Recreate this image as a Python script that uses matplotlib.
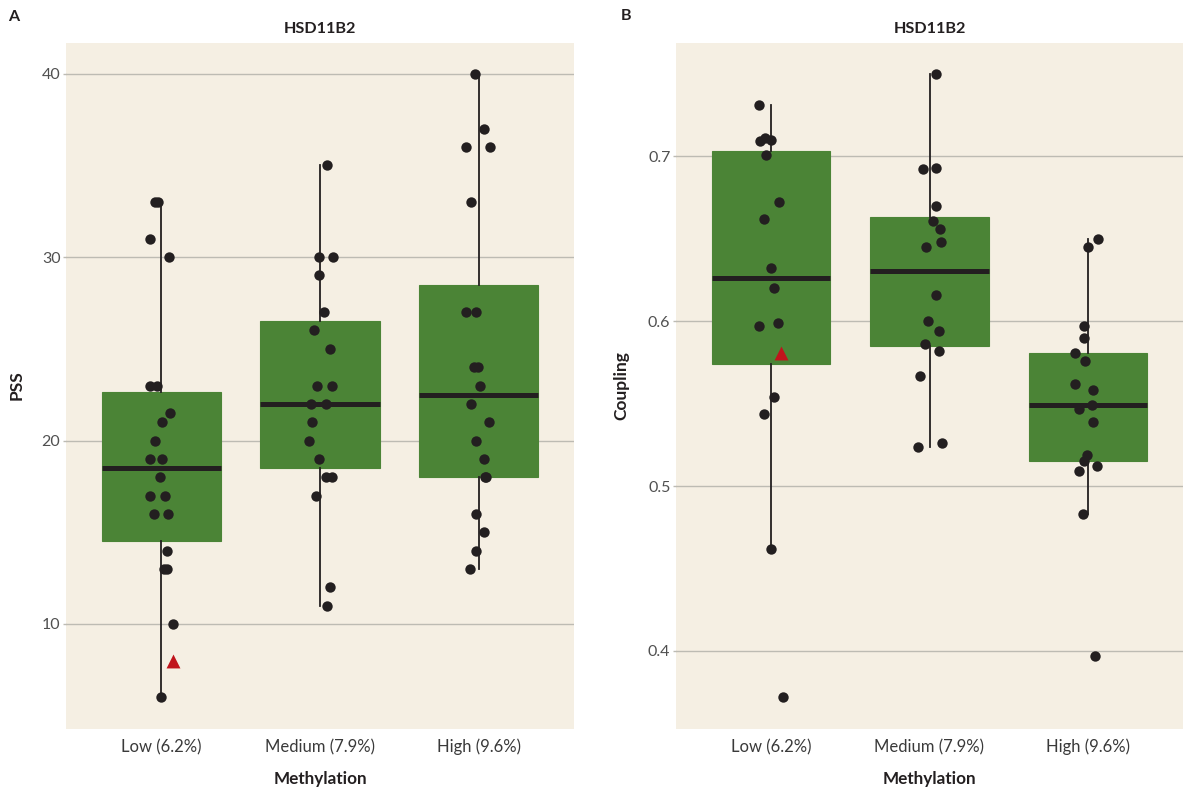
import matplotlib

matplotlib.use("Agg")
import matplotlib.pyplot as plt
import numpy as np

plt.rcParams["font.family"] = ["Lato", "DejaVu Sans"]

# categories shared by both panels
groups = ["Low (6.2%)", "Medium (7.9%)", "High (9.6%)"]

# Panel A: PSS per methylation group
pss_low = [33, 33, 31, 30, 23, 23, 21.5, 21, 20, 19, 19, 18, 17, 17, 16, 16,
           14, 13, 13, 10, 6]
pss_medium = [35, 30, 30, 29, 27, 26, 25, 23, 23, 22, 22, 21, 20, 19, 18, 18,
              17, 12, 11]
pss_high = [40, 37, 36, 36, 33, 27, 27, 24, 24, 23, 22, 21, 20, 19, 18, 18,
            16, 15, 14, 13]
pss_highlight = 8  # red triangle, belongs to the Low group

# horizontal jitter of each point (category units)
pss_low_jit = [-0.038, -0.023, -0.073, 0.046, -0.069, -0.027, 0.053, 0.002,
               -0.041, -0.069, 0.002, -0.010, -0.073, 0.021, -0.044, 0.044,
               0.038, 0.019, 0.036, 0.075, 0.0]
pss_medium_jit = [0.044, -0.004, 0.080, -0.006, 0.025, -0.040, 0.061, -0.017,
                  0.078, -0.055, 0.040, -0.051, -0.070, -0.004, 0.040, 0.076,
                  -0.025, 0.063, 0.046]
pss_high_jit = [-0.021, 0.036, -0.078, 0.068, -0.049, -0.078, -0.019, -0.032,
                -0.006, 0.008, -0.049, 0.063, -0.017, 0.034, 0.040, 0.046,
                -0.015, 0.030, -0.017, -0.057]
pss_highlight_jit = 0.073

# Panel B: coupling per methylation group
cpl_low = [0.731, 0.709, 0.711, 0.710, 0.701, 0.672, 0.662, 0.632, 0.620,
           0.597, 0.599, 0.554, 0.544, 0.462, 0.372]
cpl_medium = [0.750, 0.692, 0.693, 0.670, 0.661, 0.656, 0.648, 0.645, 0.616,
              0.600, 0.594, 0.586, 0.582, 0.567, 0.524, 0.526]
cpl_high = [0.650, 0.645, 0.597, 0.590, 0.581, 0.576, 0.562, 0.558, 0.547,
            0.549, 0.539, 0.519, 0.515, 0.512, 0.509, 0.483, 0.397]
cpl_highlight = 0.581

cpl_low_jit = [-0.073, -0.071, -0.040, -0.002, -0.029, 0.050, -0.042, 0.002,
               0.021, -0.073, 0.046, 0.021, -0.046, 0.0, 0.073]
cpl_medium_jit = [0.044, -0.044, 0.038, 0.038, 0.021, 0.069, 0.071, -0.019,
                  0.040, -0.008, 0.059, -0.029, 0.059, -0.059, -0.071, 0.078]
cpl_high_jit = [0.061, 0.0, -0.023, -0.025, -0.084, -0.019, -0.084, 0.029,
                -0.055, 0.025, 0.029, -0.008, -0.023, 0.059, -0.055, -0.034,
                0.044]
cpl_highlight_jit = 0.065

BG = "#f5efe3"
BOX = "#4b8436"
INK = "#231f20"
RED = "#c0141c"
GRID = "#bdbbb3"
TICK = "#505050"


def draw_panel(ax, data, jitter, highlight, highlight_jit, ylabel, yticks,
               ylim, fmt):
    ax.set_facecolor(BG)
    for s in ax.spines.values():
        s.set_visible(False)
    ax.set_axisbelow(True)
    ax.yaxis.grid(True, color=GRID, lw=1.0)

    # highlighted subject is part of the Low group statistics
    full = [list(data[0]) + [highlight]] + [list(d) for d in data[1:]]
    pos = np.arange(len(full))
    ax.boxplot(
        full, positions=pos, widths=0.75, patch_artist=True, showfliers=False,
        showcaps=False, whis=1.5,
        boxprops=dict(facecolor=BOX, edgecolor=BOX, lw=0.8),
        medianprops=dict(color=INK, lw=3.6, solid_capstyle="butt"),
        whiskerprops=dict(color=INK, lw=1.3),
        zorder=2,
    )

    for i, (vals, jit) in enumerate(zip(data, jitter)):
        ax.scatter(i + np.asarray(jit), vals, s=56, c=INK, lw=0, zorder=4)
    ax.scatter([0 + highlight_jit], [highlight], s=100, marker="^", c=RED,
               lw=0, zorder=5)

    ax.set_xlim(-0.6, 2.6)
    ax.set_ylim(*ylim)
    ax.set_xticks(pos)
    ax.set_xticklabels(groups, fontsize=12, color="#3a3a3a")
    ax.tick_params(axis="x", length=0, pad=7.5)
    ax.set_yticks(yticks)
    ax.set_yticklabels([fmt.format(t) for t in yticks], fontsize=11.5,
                       color=TICK)
    ax.tick_params(axis="y", length=2.5, width=1, color=GRID, pad=1.5)

    ax.set_title("HSD11B2", fontsize=11.7, fontweight="bold", color=INK,
                 pad=6.5)
    ax.set_xlabel("Methylation", fontsize=12.3, fontweight="bold", color=INK)
    ax.xaxis.set_label_coords(0.5, -0.073)
    ax.xaxis.label.set_va("center")
    ax.set_ylabel(ylabel, fontsize=12.5, fontweight="bold", color=INK)


fig = plt.figure(figsize=(11.83, 7.90), dpi=100)
ax_a = fig.add_axes([66 / 1183, 61.5 / 790, 508 / 1183, 686 / 790])
ax_b = fig.add_axes([676 / 1183, 61.5 / 790, 507 / 1183, 686 / 790])

draw_panel(ax_a, [pss_low, pss_medium, pss_high],
           [pss_low_jit, pss_medium_jit, pss_high_jit],
           pss_highlight, pss_highlight_jit, "PSS", [10, 20, 30, 40],
           (4.3, 41.7), "{:.0f}")
ax_a.yaxis.set_label_coords(-0.081, 0.5)

draw_panel(ax_b, [cpl_low, cpl_medium, cpl_high],
           [cpl_low_jit, cpl_medium_jit, cpl_high_jit],
           cpl_highlight, cpl_highlight_jit, "Coupling", [0.4, 0.5, 0.6, 0.7],
           (0.353, 0.769), "{:.1f}")
ax_b.yaxis.set_label_coords(-0.091, 0.5)

fig.text(14 / 1183, 1 - 17 / 790, "A", fontsize=11.5, fontweight="bold",
         color=INK, ha="center", va="center")
fig.text(626 / 1183, 1 - 16 / 790, "B", fontsize=11.5, fontweight="bold",
         color=INK, ha="center", va="center")

fig.savefig("out.png", dpi=100, facecolor="white")
